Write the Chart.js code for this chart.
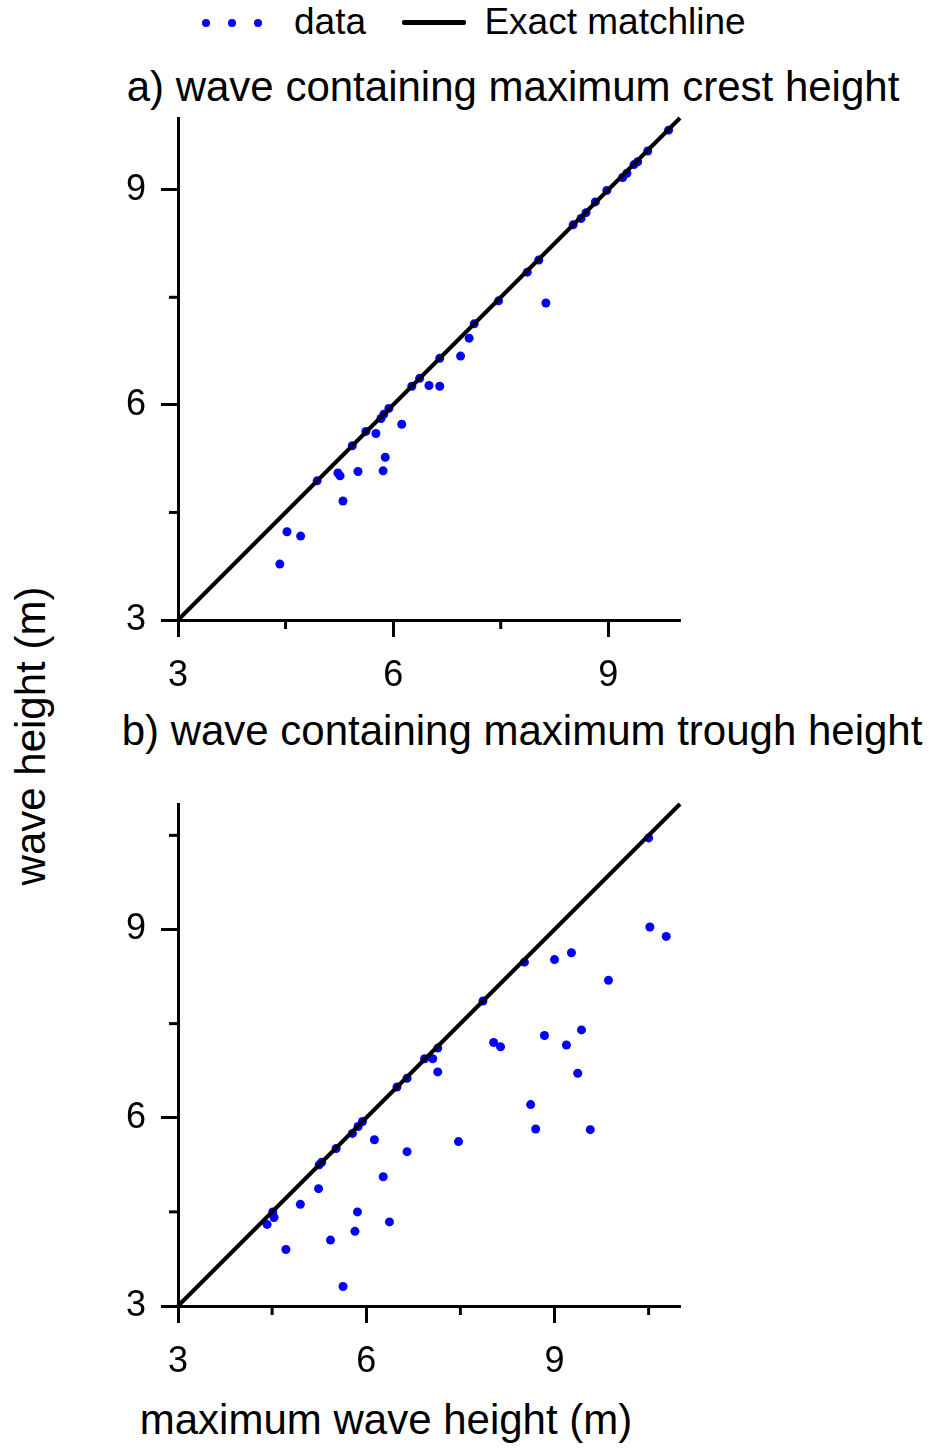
<!DOCTYPE html>
<html>
<head>
<meta charset="utf-8">
<script src="https://cdn.jsdelivr.net/npm/chart.js@4"></script>
<style>
  body { margin: 0; background: #fff; }
  #wrap { position: relative; width: 929px; height: 1450px; font-family: "Liberation Sans", Arial, sans-serif; color: #000; }
  canvas { position: absolute; left: 0; }
  .txt { position: absolute; white-space: nowrap; transform: translate(-50%, -50%); }
  .dot { position: absolute; width: 8px; height: 8px; border-radius: 50%; background: #0000ff; }
</style>
</head>
<body>
<div id="wrap">
  <span class="dot" style="left:202px;top:19px"></span>
  <span class="dot" style="left:228px;top:19px"></span>
  <span class="dot" style="left:254px;top:19px"></span>
  <div class="txt" style="left:330px;top:22px;font-size:37px">data</div>
  <div style="position:absolute;left:402px;top:20px;width:64px;height:5px;background:#000;border-radius:2px"></div>
  <div class="txt" style="left:615px;top:22px;font-size:37px">Exact matchline</div>

  <div class="txt" style="left:513px;top:87px;font-size:42px">a) wave containing maximum crest height</div>
  <div class="txt" style="left:522px;top:731px;font-size:42px">b) wave containing maximum trough height</div>
  <div class="txt" style="left:31px;top:736px;font-size:42px;transform:translate(-50%,-50%) rotate(-90deg)">wave height (m)</div>
  <div class="txt" style="left:386px;top:1420px;font-size:42px">maximum wave height (m)</div>

  <canvas id="chartA" width="929" height="700" style="top:0"></canvas>
  <canvas id="chartB" width="929" height="750" style="top:700px"></canvas>
</div>
<script>
// a) wave containing maximum crest height
const crestX = [4.42, 4.52, 4.71, 4.94, 5.23, 5.26, 5.30, 5.43, 5.51, 5.62,
  5.76, 5.83, 5.86, 5.87, 5.89, 5.94, 6.12, 6.26, 6.37, 6.50,
  6.65, 6.65, 6.94, 7.06, 7.13, 7.47, 7.87, 8.03, 8.13, 8.51,
  8.62, 8.69, 8.82, 8.98, 9.20, 9.26, 9.36, 9.41, 9.55, 9.84];
const crestY = [3.78, 4.23, 4.17, 4.94, 5.05, 5.01, 4.66, 5.43, 5.07, 5.63,
  5.60, 5.81, 5.08, 5.87, 5.27, 5.95, 5.73, 6.26, 6.37, 6.27,
  6.26, 6.65, 6.68, 6.93, 7.13, 7.45, 7.85, 8.02, 7.42, 8.51,
  8.60, 8.68, 8.83, 8.99, 9.17, 9.23, 9.35, 9.39, 9.54, 9.83];

// b) wave containing maximum trough height
const troughX = [4.42, 4.51, 4.53, 4.72, 4.95, 5.24, 5.25, 5.29, 5.43, 5.52,
  5.63, 5.78, 5.82, 5.86, 5.87, 5.94, 6.13, 6.27, 6.37, 6.49,
  6.65, 6.65, 6.93, 7.06, 7.14, 7.14, 7.47, 7.86, 8.03, 8.14,
  8.52, 8.62, 8.70, 8.84, 9.00, 9.19, 9.27, 9.37, 9.43, 9.57,
  9.86, 10.50, 10.52, 10.78];
const troughY = [4.30, 4.50, 4.41, 3.90, 4.62, 4.87, 5.25, 5.29, 4.05, 5.51,
  3.31, 5.75, 4.19, 4.50, 5.86, 5.94, 5.65, 5.06, 4.34, 6.49,
  6.63, 5.46, 6.94, 6.94, 7.11, 6.73, 5.62, 7.86, 7.20, 7.13,
  8.48, 6.21, 5.82, 7.31, 8.52, 7.16, 8.63, 6.71, 7.40, 5.81,
  8.19, 10.46, 9.04, 8.89];

const majorTicks = [3, 6, 9];
const minorTicks = [4.5, 7.5, 10.5];
const rangeA = [3, 10];
const rangeB = [3, 11];

// short outward ticks between the labelled ones
const minorTickPlugin = {
  id: 'minorTicks',
  afterDraw(chart, args, opts) {
    const {ctx, scales: {x, y}} = chart;
    ctx.save();
    ctx.strokeStyle = '#000';
    ctx.lineWidth = 3;
    opts.values.forEach(v => {
      if (v < x.max) {
        let px = x.getPixelForValue(v);
        ctx.beginPath(); ctx.moveTo(px, x.top); ctx.lineTo(px, x.top + 9); ctx.stroke();
      }
      if (v < y.max) {
        let py = y.getPixelForValue(v);
        ctx.beginPath(); ctx.moveTo(y.right, py); ctx.lineTo(y.right - 9, py); ctx.stroke();
      }
    });
    ctx.restore();
  }
};

function axis(range, isX, fitSize) {
  return {
    type: 'linear',
    min: range[0],
    max: range[1],
    afterBuildTicks: s => { s.ticks = majorTicks.map(v => ({value: v})); },
    afterFit: s => { if (isX) s.height = fitSize; else s.width = fitSize; },
    border: {display: true, color: '#000', width: 3},
    grid: {drawOnChartArea: false, drawTicks: true, tickLength: 17, tickWidth: 3, tickColor: '#000'},
    ticks: {
      color: '#000',
      padding: isX ? 17 : 15,
      font: {family: '"Liberation Sans", Arial, sans-serif', size: 36},
      callback: v => String(v)
    }
  };
}

function makeChart(id, xs, ys, range, padding) {
  const pts = xs.map((x, i) => ({x: x, y: ys[i]}));
  return new Chart(document.getElementById(id), {
    type: 'scatter',
    data: {
      datasets: [
        {
          label: 'Exact matchline',
          data: [{x: range[0], y: range[0]}, {x: range[1], y: range[1]}],
          showLine: true,
          borderColor: '#000',
          borderWidth: 4,
          pointRadius: 0,
          clip: false
        },
        {
          label: 'data',
          data: pts,
          backgroundColor: '#0000ff',
          borderWidth: 0,
          pointRadius: 4.5,
          clip: false
        }
      ]
    },
    options: {
      responsive: false,
      animation: false,
      devicePixelRatio: 1,
      layout: {padding: padding},
      scales: {
        x: axis(range, true, 80),
        y: axis(range, false, 178)
      },
      plugins: {
        legend: {display: false},
        tooltip: {enabled: false},
        minorTicks: {values: minorTicks}
      }
    },
    plugins: [minorTickPlugin]
  });
}

makeChart('chartA', crestX, crestY, rangeA, {left: 0, right: 249, top: 118, bottom: 0});
makeChart('chartB', troughX, troughY, rangeB, {left: 0, right: 249, top: 104, bottom: 64});
</script>
</body>
</html>
